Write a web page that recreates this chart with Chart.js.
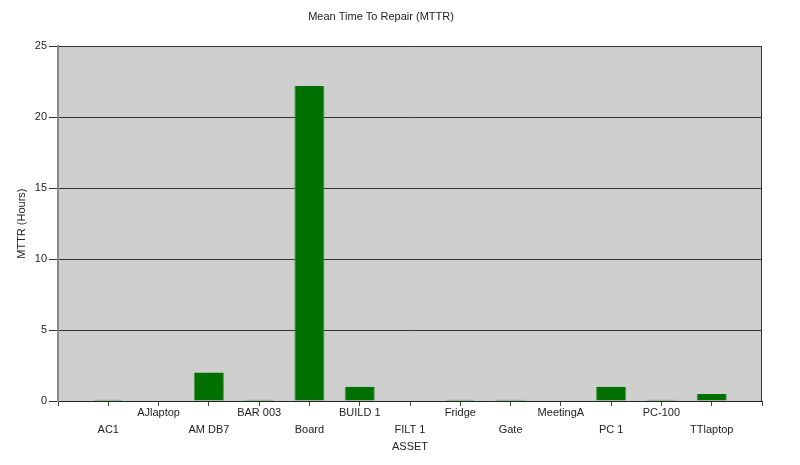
<!DOCTYPE html>
<html>
<head>
<meta charset="utf-8">
<title>Mean Time To Repair (MTTR)</title>
<script src="https://cdn.jsdelivr.net/npm/chart.js@4"></script>
<style>
    html, body { margin: 0; padding: 0; background: #ffffff; }
    #wrap { width: 800px; height: 465px; position: relative; }
</style>
</head>
<body>
<div id="wrap"><canvas id="chartMttr"></canvas></div>
<script>
// data
const assets = ['AC1', 'AJlaptop', 'AM DB7', 'BAR 003', 'Board', 'BUILD 1', 'FILT 1',
    'Fridge', 'Gate', 'MeetingA', 'PC 1', 'PC-100', 'TTlaptop'];
const mttrHours = [0.08, 0, 2, 0.08, 22.2, 1, 0, 0.08, 0.08, 0, 1, 0.08, 0.5];
const yTickValues = [0, 5, 10, 15, 20, 25];

// the original leaves a whole empty slot at each end of the axis
const axisLabels = [''].concat(assets, ['']);
const axisValues = [null].concat(mttrHours, [null]);

Chart.defaults.font.family = '"Liberation Sans", Arial, sans-serif';
Chart.defaults.font.size = 11;
Chart.defaults.color = '#222';

// grey plot background + right border
const plotFrame = {
    id: 'plotFrame',
    beforeDraw(chart) {
        const a = chart.chartArea, ctx = chart.ctx;
        ctx.save();
        ctx.fillStyle = '#cfcfcf';
        ctx.fillRect(a.left, a.top, a.right - a.left, a.bottom - a.top);
        ctx.restore();
    },
    afterDraw(chart) {
        const a = chart.chartArea, ctx = chart.ctx;
        ctx.save();
        ctx.strokeStyle = '#333';
        ctx.lineWidth = 1;
        ctx.beginPath();
        ctx.moveTo(a.right - 0.5, a.top);
        ctx.lineTo(a.right - 0.5, a.bottom);
        ctx.stroke();
        ctx.restore();
    }
};

new Chart(document.getElementById('chartMttr'), {
    type: 'bar',
    data: {
        labels: axisLabels,
        datasets: [{
            label: 'MTTR (Hours)',
            data: axisValues,
            backgroundColor: '#007000',
            borderColor: '#4f9a4f',
            borderWidth: { left: 1, right: 1, top: 0, bottom: 0 },
            categoryPercentage: 1,
            barPercentage: 0.6
        }]
    },
    plugins: [plotFrame],
    options: {
        responsive: true,
        maintainAspectRatio: false,
        animation: false,
        layout: {
            padding: { left: 0, right: 38, top: 0, bottom: 0 }
        },
        plugins: {
            legend: { display: false },
            tooltip: { enabled: false },
            title: {
                display: true,
                text: 'Mean Time To Repair (MTTR)',
                color: '#222',
                font: { size: 11, weight: 'normal' },
                padding: { top: 10, bottom: 23 }
            }
        },
        scales: {
            x: {
                offset: false,
                afterFit(scale) { scale.height = 64; },
                grid: {
                    offset: false,
                    drawOnChartArea: false,
                    drawTicks: true,
                    tickLength: 5,
                    color: '#444'
                },
                border: { color: '#222', width: 1 },
                ticks: {
                    autoSkip: false,
                    maxRotation: 0,
                    minRotation: 0,
                    padding: -2,
                    font: { size: 11, lineHeight: 1.55 },
                    // staggered two-row labels like the original
                    callback(value, index) {
                        const name = axisLabels[index];
                        return (index % 2 === 1) ? ['', name] : [name];
                    }
                },
                title: {
                    display: true,
                    text: 'ASSET',
                    font: { size: 11 },
                    padding: { top: 2, bottom: 11 }
                }
            },
            y: {
                beginAtZero: true,
                min: yTickValues[0],
                max: yTickValues[yTickValues.length - 1],
                afterFit(scale) { scale.width = 58; },
                afterBuildTicks(scale) {
                    scale.ticks = yTickValues.map(v => ({ value: v }));
                },
                grid: {
                    color: '#333',
                    lineWidth: 1,
                    tickLength: 9
                },
                border: { color: '#8a8a8a', width: 2 },
                ticks: {
                    padding: 2,
                    font: { size: 11 }
                },
                title: {
                    display: true,
                    text: 'MTTR (Hours)',
                    font: { size: 11 },
                    padding: { top: 15, bottom: 6 }
                }
            }
        }
    }
});
</script>
</body>
</html>
